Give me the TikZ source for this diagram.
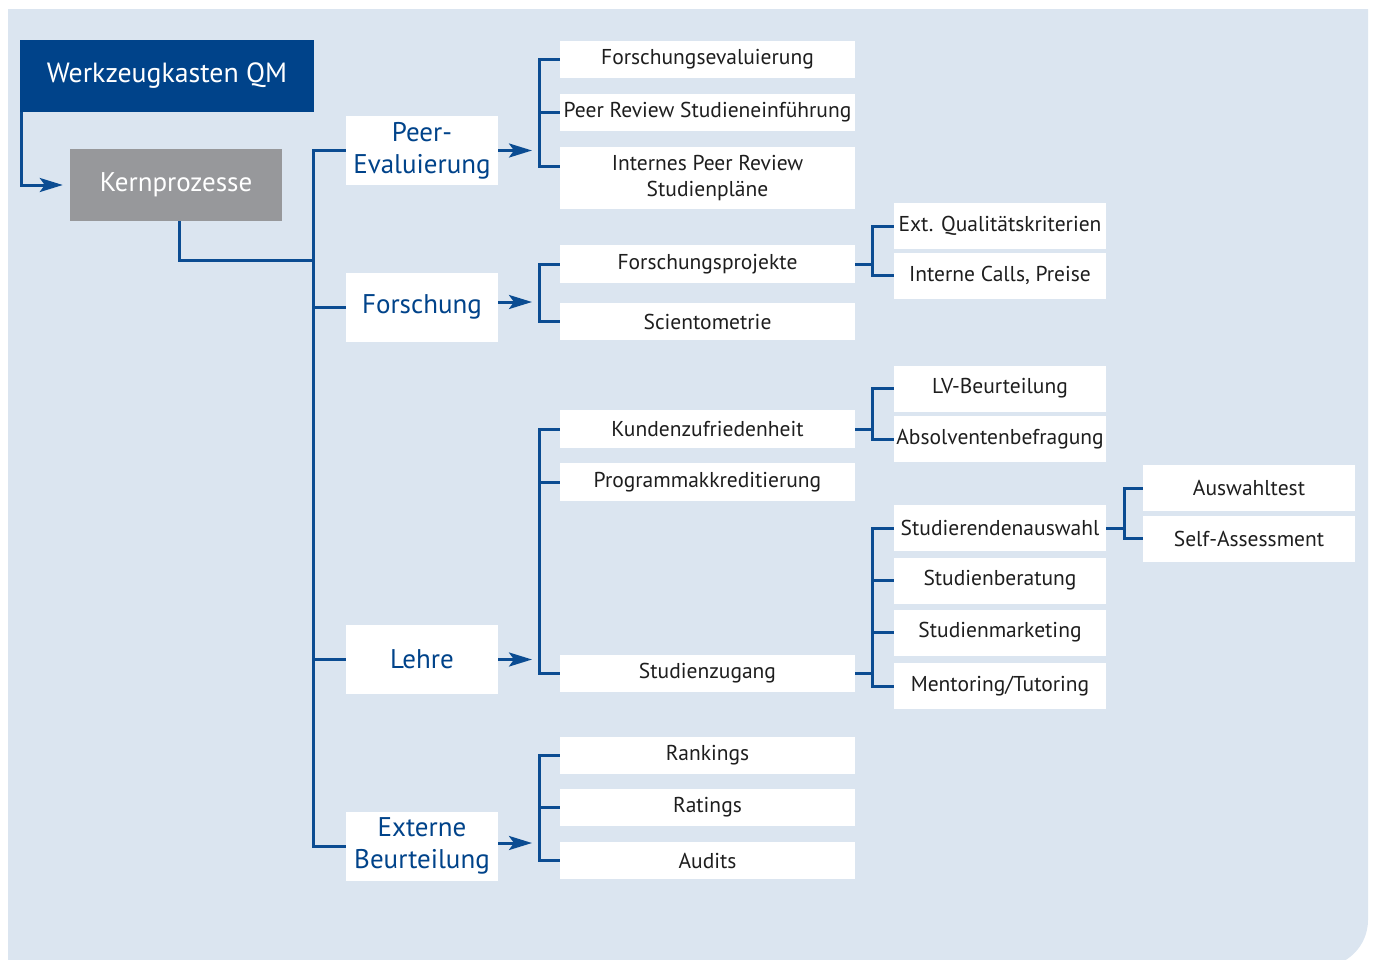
\documentclass[tikz,border=0pt]{standalone}
\usepackage{fontspec}
\setmainfont{PT Sans}
\usetikzlibrary{arrows.meta}
\definecolor{qmblue}{HTML}{00438A}
\definecolor{lineblue}{HTML}{0B4C92}
\definecolor{kerngray}{HTML}{97989B}
\definecolor{panel}{HTML}{DBE5F0}
\definecolor{ink}{HTML}{1E1E1E}

\begin{document}
\begin{tikzpicture}[x=1pt,y=-1pt,
  box/.style={inner sep=0pt, align=center, fill=white, text=ink,
    font=\fontsize{21.5}{26}\selectfont},
  headbox/.style={box, text=white, minimum height=72pt},
  l1box/.style={box, minimum width=152pt, minimum height=69pt, text=qmblue,
    font=\fontsize{27}{32}\selectfont},
  l2box/.style={box, minimum width=295pt, minimum height=37.5pt},
  l3box/.style={box, minimum width=212pt, minimum height=46pt},
  ln/.style={draw=lineblue, line width=3pt},
  arr/.style={ln, -{Stealth[length=23pt,width=14pt,inset=5pt]}, shorten >=7pt},
]
\useasboundingbox (0,0) rectangle (1374,959);

% panel with one rounded corner
\begin{scope}
  \clip (8,9) rectangle (1374,959);
  \fill[panel, rounded corners=47pt] (-200,-200) rectangle (1368,967);
\end{scope}

% head and core process
\node[headbox, fill=qmblue, minimum width=294pt, font=\fontsize{27.8}{32}\selectfont]
  (top) at (167,76) {Werkzeugkasten QM};
\node[headbox, fill=kerngray, minimum width=212pt, font=\fontsize{27}{32}\selectfont]
  (kern) at (176,185) {Kernprozesse};

% first level
\node[l1box] (pe) at (422,150.5) {Peer-\\Evaluierung};
\node[l1box] (fo) at (422,307) {Forschung};
\node[l1box] (le) at (422,659.5) {Lehre};
\node[l1box] (eb) at (422,846) {Externe\\Beurteilung};

% second level
\node[l2box] (fe)  at (707.5,59.5)  {Forschungsevaluierung};
\node[l2box] (prs) at (707.5,112.5) {Peer Review Studieneinführung};
\node[l2box, minimum height=62pt] (ipr) at (707.5,178) {Internes Peer Review\\Studienpläne};
\node[l2box] (fp)  at (707.5,264)   {Forschungsprojekte};
\node[l2box] (sc)  at (707.5,321.5) {Scientometrie};
\node[l2box] (kz)  at (707.5,429)   {Kundenzufriedenheit};
\node[l2box] (pa)  at (707.5,482)   {Programmakkreditierung};
\node[l2box] (sz)  at (707.5,673.5) {Studienzugang};
\node[l2box] (rk)  at (707.5,755.5) {Rankings};
\node[l2box] (rt)  at (707.5,807.5) {Ratings};
\node[l2box] (au)  at (707.5,860.5) {Audits};

% third level
\node[l3box] (eq) at (1000,226)   {Ext. Qualitätskriterien};
\node[l3box] (ic) at (1000,275.5) {Interne Calls, Preise};
\node[l3box] (lv) at (1000,388.5) {LV-Beurteilung};
\node[l3box] (ab) at (1000,439)   {Absolventenbefragung};
\node[l3box] (sa) at (1000,528)   {Studierendenauswahl};
\node[l3box] (sb) at (1000,580.5) {Studienberatung};
\node[l3box] (sm) at (1000,632.5) {Studienmarketing};
\node[l3box] (mt) at (1000,686)   {Mentoring/Tutoring};

% fourth level
\node[l3box] (awt) at (1249,488)   {Auswahltest};
\node[l3box] (ssa) at (1249,538.5) {Self-Assessment};

% bracket columns
\coordinate (t)  at (313,0);
\coordinate (kj) at (313,260);
\coordinate (b2) at (539,0);
\coordinate (b3) at (872,0);
\coordinate (b4) at (1124,0);
\coordinate (iprt) at ([yshift=12pt]ipr.west);
\coordinate (foa)  at ([yshift=5pt]fo.east);
\coordinate (eba)  at ([yshift=3pt]eb.east);
\coordinate (ks)   at ([xshift=3pt]kern.south);

% head to core
\draw[arr] ([xshift=1.5pt]top.south west) |- (kern.west);

% core trunk
\draw[ln] (ks) |- (kj);
\draw[ln] (pe.west) -- (pe.west -| t) -- (eb.west -| t) -- (eb.west);
\draw[ln] (fo.west) -- (fo.west -| t);
\draw[ln] (le.west) -- (le.west -| t);

% Peer-Evaluierung
\draw[arr] (pe.east) -- (pe.east -| b2);
\draw[ln] (fe.west) -- (fe.west -| b2) -- (iprt -| b2) -- (iprt);
\draw[ln] (prs.west) -- (prs.west -| b2);

% Forschung
\draw[arr] (foa) -- (foa -| b2);
\draw[ln] (fp.west) -- (fp.west -| b2) -- (sc.west -| b2) -- (sc.west);
\draw[ln] (fp.east) -- (fp.east -| b3);
\draw[ln] (eq.west) -- (eq.west -| b3) -- (ic.west -| b3) -- (ic.west);

% Lehre
\draw[arr] (le.east) -- (le.east -| b2);
\draw[ln] (kz.west) -- (kz.west -| b2) -- (sz.west -| b2) -- (sz.west);
\draw[ln] (pa.west) -- (pa.west -| b2);
\draw[ln] (kz.east) -- (kz.east -| b3);
\draw[ln] (lv.west) -- (lv.west -| b3) -- (ab.west -| b3) -- (ab.west);
\draw[ln] (sz.east) -- (sz.east -| b3);
\draw[ln] (sa.west) -- (sa.west -| b3) -- (mt.west -| b3) -- (mt.west);
\draw[ln] (sb.west) -- (sb.west -| b3);
\draw[ln] (sm.west) -- (sm.west -| b3);
\draw[ln] (sa.east) -- (sa.east -| b4);
\draw[ln] (awt.west) -- (awt.west -| b4) -- (ssa.west -| b4) -- (ssa.west);

% Externe Beurteilung
\draw[arr] (eba) -- (eba -| b2);
\draw[ln] (rk.west) -- (rk.west -| b2) -- (au.west -| b2) -- (au.west);
\draw[ln] (rt.west) -- (rt.west -| b2);
\end{tikzpicture}
\end{document}
